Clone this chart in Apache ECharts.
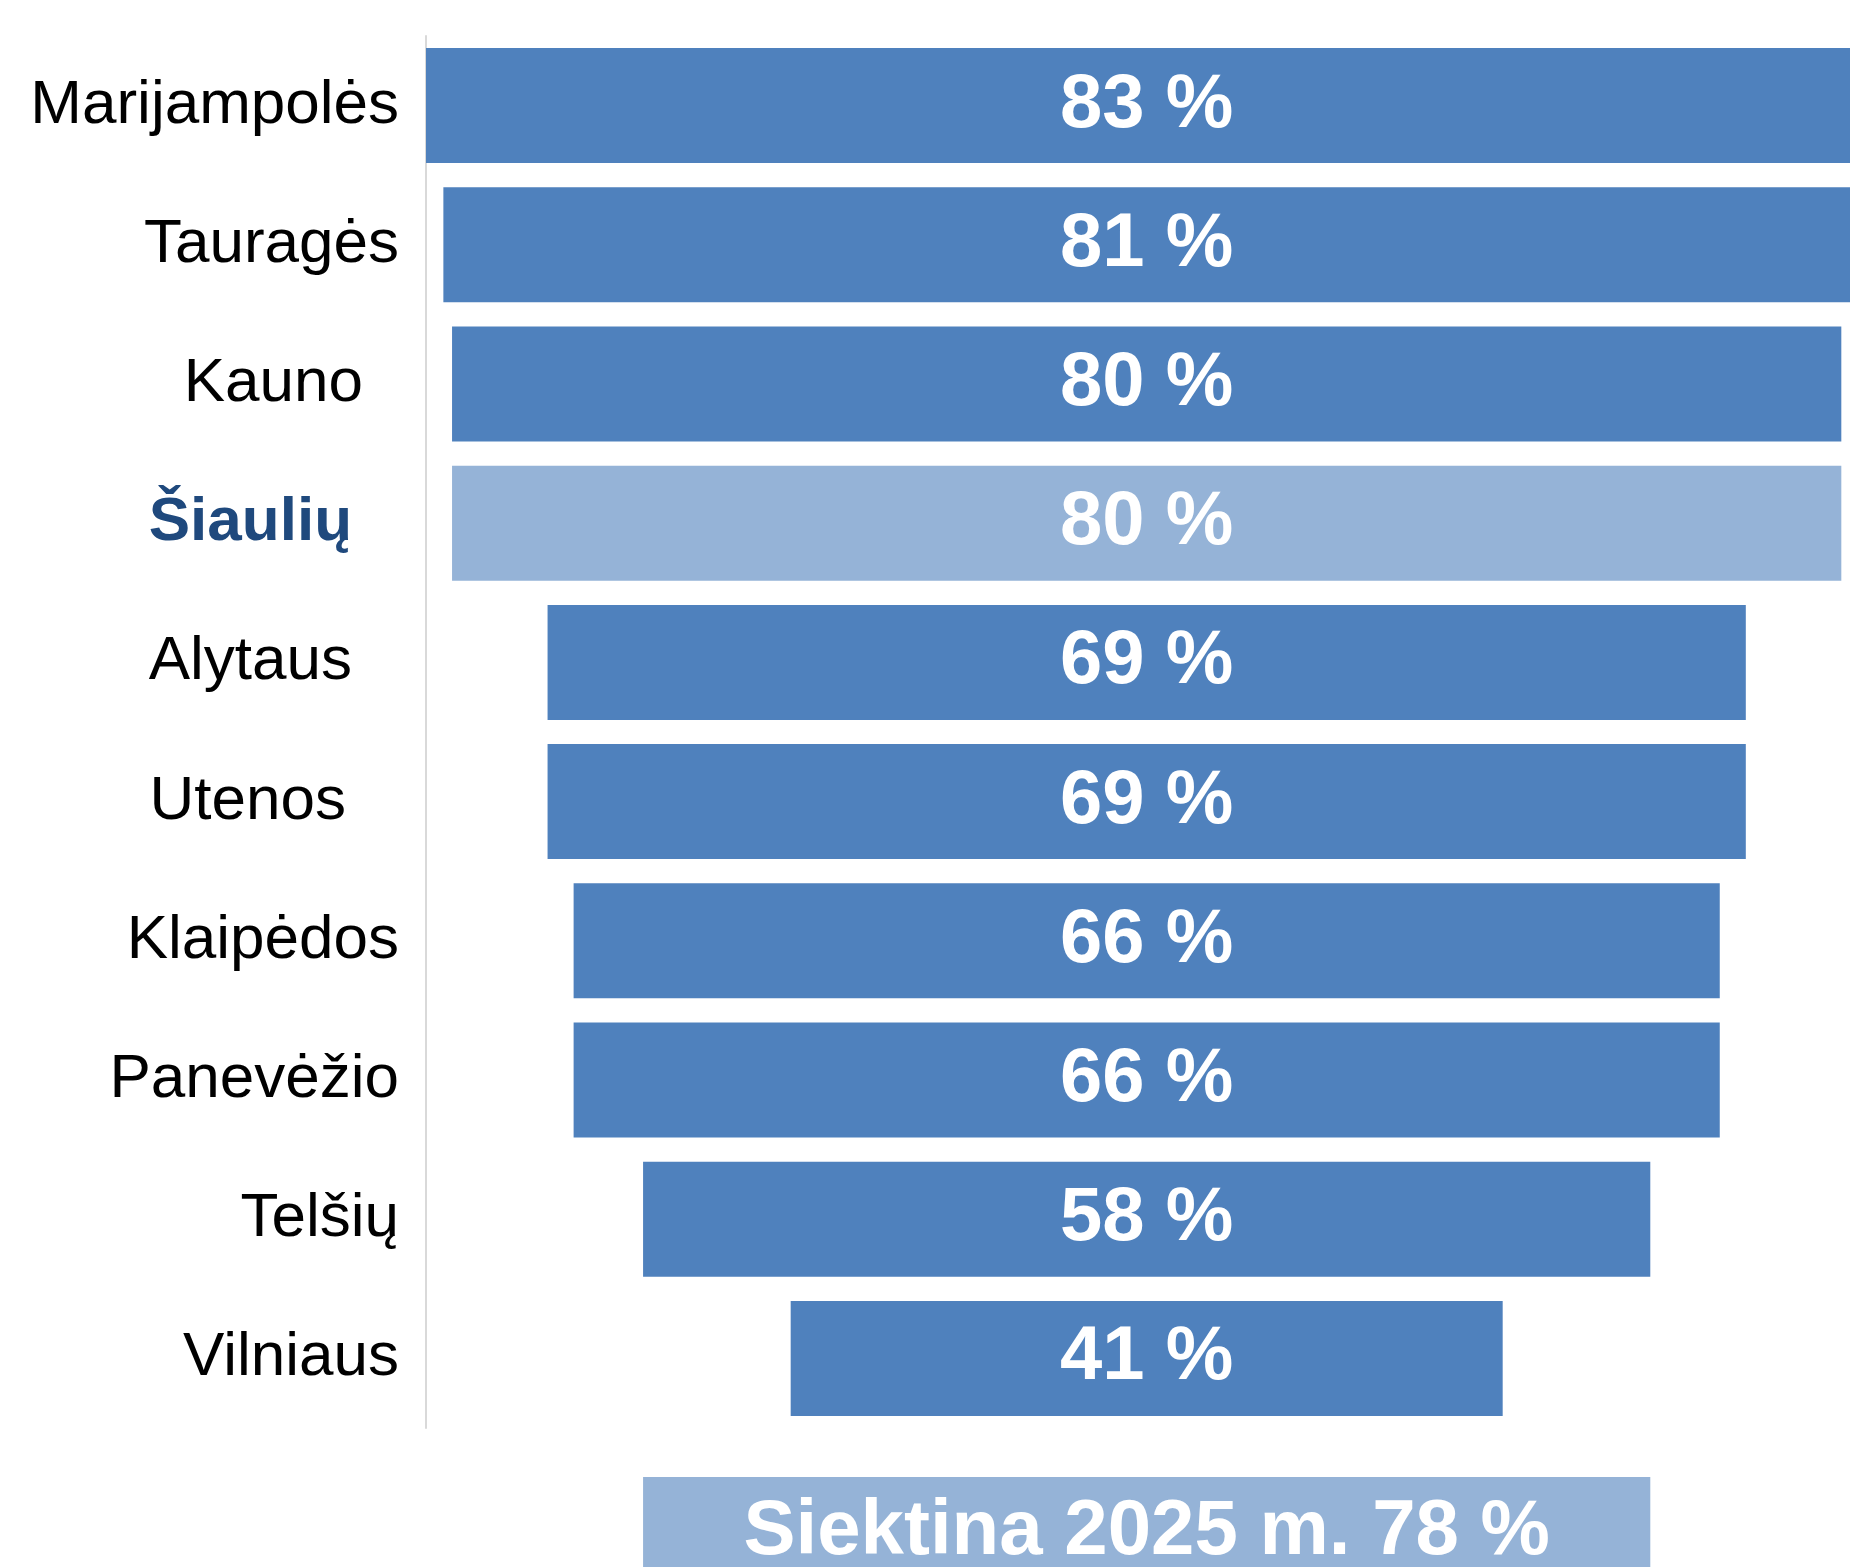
<!DOCTYPE html>
<html>
<head>
<meta charset="utf-8">
<script src="https://cdn.jsdelivr.net/npm/echarts@6/dist/echarts.min.js"></script>
<style>
  html, body { margin: 0; padding: 0; background: #fff; }
  #main { width: 1850px; height: 1567px; }
</style>
</head>
<body>
<div id="main"></div>
<script>
// apskritys ir jų rodikliai (%)
var regions = ['Marijampolės', 'Tauragės', 'Kauno', 'Šiaulių', 'Alytaus', 'Utenos', 'Klaipėdos', 'Panevėžio', 'Telšių', 'Vilniaus'];
var shares = [83, 81, 80, 80, 69, 69, 66, 66, 58, 41];

// siektina reikšmė; juostos ilgis originale nupieštas kaip 58
var targetName = 'Siektina 2025 m.';
var targetShare = 78;
var targetBar = [58];

var highlight = 'Šiaulių';
var center = 50;

var myChart = echarts.init(document.getElementById('main'));

// nematomas poslinkis, kad juostos būtų centruotos
var offsets = shares.map(function (v) { return center - v / 2; });
var targetOffsets = targetBar.map(function (v) { return center - v / 2; });

// kai kurie pavadinimai originale atitraukti nuo ašies
var labelPad = { 'Kauno': 36, 'Šiaulių': 47, 'Alytaus': 47, 'Utenos': 53 };

var catData = regions.map(function (r) {
    var ts = { padding: [0, labelPad[r] || 0, 0, 0] };
    if (r === highlight) {
        ts.color = '#1F497D';
        ts.fontWeight = 'bold';
    }
    return { value: r, textStyle: ts };
});

var barData = shares.map(function (v, i) {
    return regions[i] === highlight ? { value: v, itemStyle: { color: '#95B3D7' } } : v;
});

var option = {
    animation: false,
    backgroundColor: '#fff',
    grid: [
        { left: 426, right: 0, top: 36, height: 1392, containLabel: false, outerBoundsMode: 'none' },
        { left: 426, right: 0, top: 1477, height: 110, containLabel: false, outerBoundsMode: 'none' }
    ],
    xAxis: [
        { type: 'value', gridIndex: 0, min: 8.5, max: 90.5, show: false },
        { type: 'value', gridIndex: 1, min: 8.5, max: 90.5, show: false }
    ],
    yAxis: [
        {
            type: 'category', gridIndex: 0, inverse: true,
            data: catData,
            axisLine: { show: true, lineStyle: { color: '#d9d9d9', width: 2 } },
            axisTick: { show: false },
            splitLine: { show: false },
            axisLabel: {
                margin: 27,
                fontSize: 62,
                color: '#000',
                fontFamily: 'Liberation Sans, Arial, sans-serif'
            }
        },
        { type: 'category', gridIndex: 1, data: [targetName], show: false }
    ],
    series: [
        {
            type: 'bar', xAxisIndex: 0, yAxisIndex: 0, stack: 'a',
            data: offsets, barWidth: 115,
            itemStyle: { color: 'transparent' },
            silent: true, clip: false
        },
        {
            type: 'bar', xAxisIndex: 0, yAxisIndex: 0, stack: 'a',
            data: barData, barWidth: 115, clip: false,
            itemStyle: { color: '#4F81BD' },
            label: {
                show: true, position: 'inside',
                formatter: function (p) { return p.value + ' %'; },
                color: '#fff', fontSize: 76, fontWeight: 'bold',
                fontFamily: 'Liberation Sans, Arial, sans-serif'
            }
        },
        {
            type: 'bar', xAxisIndex: 1, yAxisIndex: 1, stack: 'b',
            data: targetOffsets, barWidth: 110,
            itemStyle: { color: 'transparent' },
            silent: true, clip: false
        },
        {
            type: 'bar', xAxisIndex: 1, yAxisIndex: 1, stack: 'b',
            data: targetBar, barWidth: 110, clip: false,
            itemStyle: { color: '#95B3D7' },
            label: {
                show: true, position: 'inside',
                formatter: function () { return targetName + ' ' + targetShare + ' %'; },
                color: '#fff', fontSize: 78, fontWeight: 'bold',
                fontFamily: 'Liberation Sans, Arial, sans-serif'
            }
        }
    ]
};

myChart.setOption(option);
</script>
</body>
</html>
